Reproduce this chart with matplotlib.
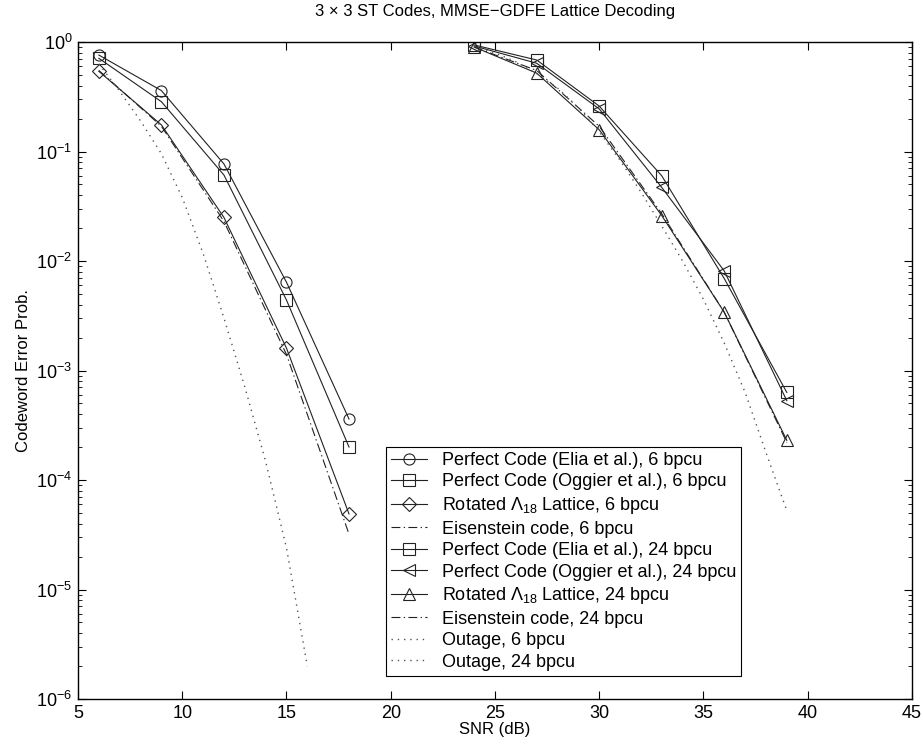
import numpy as np
import matplotlib
matplotlib.use("Agg")
import matplotlib.pyplot as plt
from matplotlib.ticker import LogLocator, NullFormatter

plt.rcParams['font.family'] = ['Liberation Sans', 'DejaVu Sans']
plt.rcParams['mathtext.fontset'] = 'custom'
plt.rcParams['mathtext.rm'] = 'Liberation Sans'
plt.rcParams['mathtext.it'] = 'Liberation Sans:italic'
plt.rcParams['mathtext.bf'] = 'Liberation Sans:bold'

# SNR points (dB)
snr6 = [6, 9, 12, 15, 18]
snr24 = [24, 27, 30, 33, 36, 39]
snr_out6 = [6, 7, 8, 9, 10, 11, 12, 13, 14, 15, 16]
snr_out24 = [24, 25, 26, 27, 28, 29, 30, 31, 32, 33, 34, 35, 36, 37, 38, 39]

# codeword error probabilities, 6 bpcu
elia6 = [0.76, 0.36, 0.077, 0.0064, 3.6e-4]
oggier6 = [0.71, 0.285, 0.061, 0.0044, 2.0e-4]
rot6 = [0.54, 0.175, 0.025, 0.0016, 4.9e-5]
eis6 = [0.55, 0.17, 0.023, 0.0014, 3.2e-5]

# codeword error probabilities, 24 bpcu
elia24 = [0.94, 0.685, 0.26, 0.060, 0.0069, 6.3e-4]
oggier24 = [0.92, 0.64, 0.245, 0.047, 0.0081, 5.3e-4]
rot24 = [0.90, 0.52, 0.158, 0.026, 0.0034, 2.3e-4]
eis24 = [0.90, 0.55, 0.17, 0.027, 0.0034, 2.2e-4]

# outage probabilities (log10)
out6_log = [-0.2, -0.45, -0.72, -1.02, -1.42, -1.93, -2.52, -3.15, -3.83, -4.62, -5.70]
out24_log = [-0.04, -0.1, -0.18, -0.29, -0.42, -0.6, -0.82, -1.08, -1.37, -1.68,
             -2.0, -2.35, -2.75, -3.2, -3.75, -4.28]

labels = [
    'Perfect Code (Elia et al.), 6 bpcu',
    'Perfect Code (Oggier et al.), 6 bpcu',
    r'Rotated $\Lambda_{18}$ Lattice, 6 bpcu',
    'Eisenstein code, 6 bpcu',
    'Perfect Code (Elia et al.), 24 bpcu',
    'Perfect Code (Oggier et al.), 24 bpcu',
    r'Rotated $\Lambda_{18}$ Lattice, 24 bpcu',
    'Eisenstein code, 24 bpcu',
    'Outage, 6 bpcu',
    'Outage, 24 bpcu',
]

fig = plt.figure(figsize=(9.23, 7.46), dpi=100)
ax = fig.add_axes([0.0845, 0.063, 0.9035, 0.8807])

lc = '#222222'
lw = 0.8
mk = dict(markersize=8, markerfacecolor='none', markeredgewidth=0.8, color=lc, linewidth=lw)
dashdot = (0, (8, 3, 1.2, 3))
dotted = (0, (1, 3.5))

ax.semilogy(snr6, elia6, '-o', label=labels[0], **mk)
ax.semilogy(snr6, oggier6, '-s', label=labels[1], **mk)
ax.semilogy(snr6, rot6, '-D', label=labels[2], **dict(mk, markersize=7))
ax.semilogy(snr6, eis6, linestyle=dashdot, color=lc, linewidth=lw, label=labels[3])
ax.semilogy(snr24, elia24, '-s', label=labels[4], **mk)
ax.semilogy(snr24, oggier24, '-<', label=labels[5], **mk)
ax.semilogy(snr24, rot24, '-^', label=labels[6], **mk)
ax.semilogy(snr24, eis24, linestyle=dashdot, color=lc, linewidth=lw, label=labels[7])
ax.semilogy(snr_out6, 10 ** np.array(out6_log), linestyle=dotted, color='#555555',
            linewidth=1.0, label=labels[8])
ax.semilogy(snr_out24, 10 ** np.array(out24_log), linestyle=dotted, color='#555555',
            linewidth=1.0, label=labels[9])

ax.set_xlim(5, 45)
ax.set_ylim(1e-6, 1)
ax.set_xticks(range(5, 50, 5))
ax.yaxis.set_major_locator(LogLocator(base=10, numticks=10))
ax.yaxis.set_minor_locator(LogLocator(base=10, subs=np.arange(2, 10), numticks=20))
ax.yaxis.set_minor_formatter(NullFormatter())
ax.tick_params(which='both', direction='in', top=True, right=True, labelsize=13)
ax.tick_params(which='major', length=6, width=0.8, pad=4)
ax.tick_params(which='minor', length=3, width=0.6)
for s in ax.spines.values():
    s.set_linewidth(1.0)

ax.set_xlabel('SNR (dB)', fontsize=12, labelpad=0)
ax.set_ylabel('Codeword Error Prob.', fontsize=12, labelpad=4)
ax.set_title('3 × 3 ST Codes, MMSE−GDFE Lattice Decoding', fontsize=12, pad=19)

leg = ax.legend(loc='lower left', bbox_to_anchor=(0.369, 0.035), fontsize=13,
                frameon=True, fancybox=False, edgecolor='black', framealpha=1,
                handlelength=2.0, handletextpad=0.8, borderpad=0.3,
                labelspacing=0.25, borderaxespad=0)
leg.get_frame().set_linewidth(0.8)

fig.savefig('out.png', dpi=100)
